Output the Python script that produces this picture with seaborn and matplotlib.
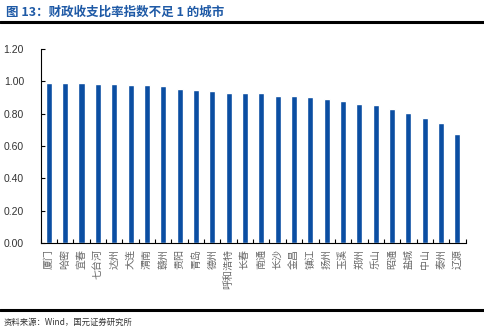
import matplotlib
matplotlib.use("Agg")
import matplotlib.pyplot as plt
import seaborn as sns
import pandas as pd

cities = ["厦门", "哈密", "宜春", "七台河", "达州", "大连", "渭南", "赣州", "贵阳", "青岛",
          "德州", "呼和浩特", "长春", "南通", "长沙", "金昌", "镇江", "扬州", "玉溪", "郑州",
          "乐山", "昭通", "盐城", "中山", "泰州", "辽源"]
values = [0.992, 0.990, 0.988, 0.986, 0.984, 0.980, 0.977, 0.969, 0.955, 0.944,
          0.938, 0.930, 0.928, 0.926, 0.907, 0.907, 0.901, 0.891, 0.881, 0.858,
          0.852, 0.831, 0.807, 0.772, 0.745, 0.675]
yticks = [0.0, 0.2, 0.4, 0.6, 0.8, 1.0, 1.2]
title = "图 13：财政收支比率指数不足 1 的城市"
source = "资料来源：Wind，国元证券研究所"

sns.set_theme(style="white")
plt.rcParams['font.family'] = ['Noto Sans CJK SC', 'DejaVu Sans']

df = pd.DataFrame({"city": cities, "value": values})

fig = plt.figure(figsize=(4.84, 3.32), dpi=100)
ax = fig.add_axes([0.084, 0.268, 0.878, 0.584])
sns.barplot(data=df, x="city", y="value", color="#0B4EA2", width=0.37,
            saturation=1, ax=ax)
ax.set_ylim(0, 1.2)
ax.set_xlim(-0.5, len(cities) - 0.5)
ax.set_yticks(yticks)
ax.set_yticklabels([f"{v:.2f}" for v in yticks], fontsize=7.5, color="#333333",
                   family=["Liberation Sans", "DejaVu Sans"])
ax.set_xticks(range(len(cities)))
ax.set_xticklabels(cities, rotation=90, fontsize=7.2, color="#666666")
ax.set_xlabel("")
ax.set_ylabel("")
for s in ["top", "right"]:
    ax.spines[s].set_visible(False)
for s in ["left", "bottom"]:
    ax.spines[s].set_color("black")
    ax.spines[s].set_linewidth(0.8)
ax.tick_params(axis="y", direction="in", length=3, width=0.8, color="black", pad=12, left=True)
ax.tick_params(axis="x", length=0, pad=4)
# minor ticks between bars on x axis
ax.set_xticks([i + 0.5 for i in range(-1, len(cities))], minor=True)
ax.tick_params(axis="x", which="minor", direction="in", length=3, width=0.8, color="black", bottom=True)

fig.text(0.012, 0.962, title, fontsize=9, fontweight="bold", color="#1F5AA6",
         ha="left", va="center")
fig.add_artist(plt.Line2D([0.0, 1.0], [0.934, 0.934], color="black", lw=2.2,
                          transform=fig.transFigure))
fig.add_artist(plt.Line2D([0.0, 1.0], [0.066, 0.066], color="black", lw=2.2,
                          transform=fig.transFigure))
fig.text(0.008, 0.028, source, fontsize=6, color="#333333", ha="left", va="center")

fig.savefig("out.png", dpi=100)
